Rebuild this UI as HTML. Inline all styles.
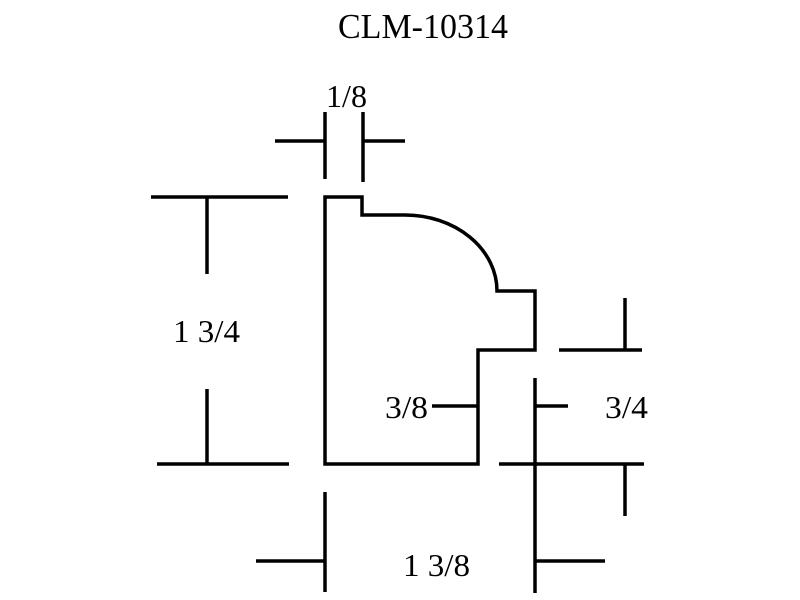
<!DOCTYPE html>
<html><head><style>
html,body{margin:0;padding:0;background:#fff;}
svg{display:block;}
text{font-family:"Liberation Serif",serif;fill:#000;}
</style></head><body>
<svg width="800" height="600" viewBox="0 0 800 600" xmlns="http://www.w3.org/2000/svg">
<rect width="800" height="600" fill="#fff"/>
<g stroke="#000" stroke-width="3.5" fill="none">
<path d="M325,464 L325,197 L362,197 L362,215 L405,215 A92,76 0 0 1 497,291 L535,291 L535,350 L478,350 L478,464 Z" stroke-linejoin="miter"/>
<line x1="275" y1="141" x2="325" y2="141"/>
<line x1="325" y1="112" x2="325" y2="179"/>
<line x1="363" y1="112" x2="363" y2="182"/>
<line x1="363" y1="141" x2="405" y2="141"/>
<line x1="151" y1="197" x2="288" y2="197"/>
<line x1="207" y1="197" x2="207" y2="274"/>
<line x1="207" y1="389" x2="207" y2="464"/>
<line x1="157" y1="464" x2="289" y2="464"/>
<line x1="625" y1="298" x2="625" y2="350"/>
<line x1="559" y1="350" x2="642" y2="350"/>
<line x1="535" y1="378" x2="535" y2="593"/>
<line x1="535" y1="406" x2="568" y2="406"/>
<line x1="499" y1="464" x2="644" y2="464"/>
<line x1="625" y1="464" x2="625" y2="516"/>
<line x1="432" y1="406" x2="478" y2="406"/>
<line x1="325" y1="492" x2="325" y2="592"/>
<line x1="256" y1="561" x2="325" y2="561"/>
<line x1="535" y1="561" x2="605" y2="561"/>
</g>
<text x="338" y="38" font-size="35" textLength="170" lengthAdjust="spacingAndGlyphs">CLM-10314</text>
<text x="326" y="107" font-size="32" textLength="41" lengthAdjust="spacingAndGlyphs">1/8</text>
<text x="173" y="342" font-size="32" textLength="67" lengthAdjust="spacingAndGlyphs">1 3/4</text>
<text x="385" y="418" font-size="32" textLength="43" lengthAdjust="spacingAndGlyphs">3/8</text>
<text x="605" y="418" font-size="32" textLength="43" lengthAdjust="spacingAndGlyphs">3/4</text>
<text x="403" y="576" font-size="32" textLength="67" lengthAdjust="spacingAndGlyphs">1 3/8</text>
</svg>
</body></html>
